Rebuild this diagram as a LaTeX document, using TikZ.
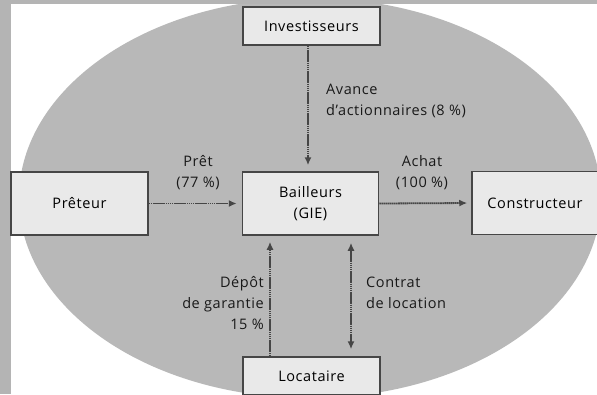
\documentclass[tikz,border=0pt]{standalone}
\usepackage{fontspec}
\setmainfont{Open Sans}[LetterSpace=4.0]
\usetikzlibrary{arrows.meta}

\definecolor{ovalgray}{RGB}{184,184,184}
\definecolor{stripgray}{RGB}{180,180,180}
\definecolor{boxfill}{RGB}{233,233,233}
\definecolor{linegray}{RGB}{70,70,70}

\tikzset{
  box/.style={draw=linegray,line width=1.5pt,fill=boxfill,inner sep=0pt,
    align=center,minimum width=136pt,minimum height=63pt},
  flow/.style={draw=linegray,line width=1.8pt,dash pattern=on 1.6pt off 0.5pt,
    -{Latex[length=8pt,width=7pt]}},
  lab/.style={inner sep=0pt,text=black!90}
}

\begin{document}
\begin{tikzpicture}[x=1pt,y=-1pt,font=\fontsize{14.5}{21}\selectfont]

		% Frame
		\useasboundingbox (0,0) rectangle (597,394);
		\fill[white] (0,0) rectangle (597,394);
		\fill[stripgray] (0,0) rectangle (11,394);
		\fill[stripgray] (0,0) rectangle (597,4);

		% The oval behind the boxes
		\begin{scope}
			\clip (11,4) rectangle (597,394);
			\fill[ovalgray] (310,198) ellipse [x radius=291,y radius=200];
		\end{scope}

		% Boxes
		\node[box,minimum width=137pt,minimum height=38pt] (inv) at (311.5,26) {Investisseurs};
		\node[box] (bail) at (310.5,203.5) {Bailleurs\\(GIE)};
		\node[box,minimum width=137pt] (pret) at (79.5,203.5) {Prêteur};
		\node[box] (cons) at (540,203) {\hspace*{-10pt}Constructeur};
		\node[box,minimum width=137pt,minimum height=38pt] (loc) at (311.5,376) {Locataire};

		% Flows
		\draw[flow,shorten >=6pt] (inv.south -| 308,0) -- (bail.north -| 308,0);
		\draw[flow,shorten >=5pt] (pret.east) -- (bail.west);
		\draw[flow,shorten >=4pt] (bail.east) -- (cons.west);
		\draw[flow,shorten >=6pt] (loc.north -| 270,0) -- (bail.south -| 270,0);
		\draw[flow,{Latex[length=8pt,width=7pt]}-{Latex[length=8pt,width=7pt]},
			shorten >=7pt,shorten <=7pt] (bail.south -| 351,0) -- (loc.north -| 351,0);

		% Labels
		\node[lab,anchor=west,align=left] (avance) at (326,101) {Avance\\d'actionnaires (8~\%)};
		\node[lab,align=center] (pretlab) at (198,173) {Prêt\\(77~\%)};
		\node[lab,align=center] (achat) at (422,173) {Achat\\(100~\%)};
		\node[lab,anchor=east,align=right] (depot) at (264,303) {Dépôt\\de garantie\\15~\%};
		\node[lab,anchor=west,align=left] (contrat) at (366,293) {Contrat\\de location};

	\end{tikzpicture}
\end{document}
